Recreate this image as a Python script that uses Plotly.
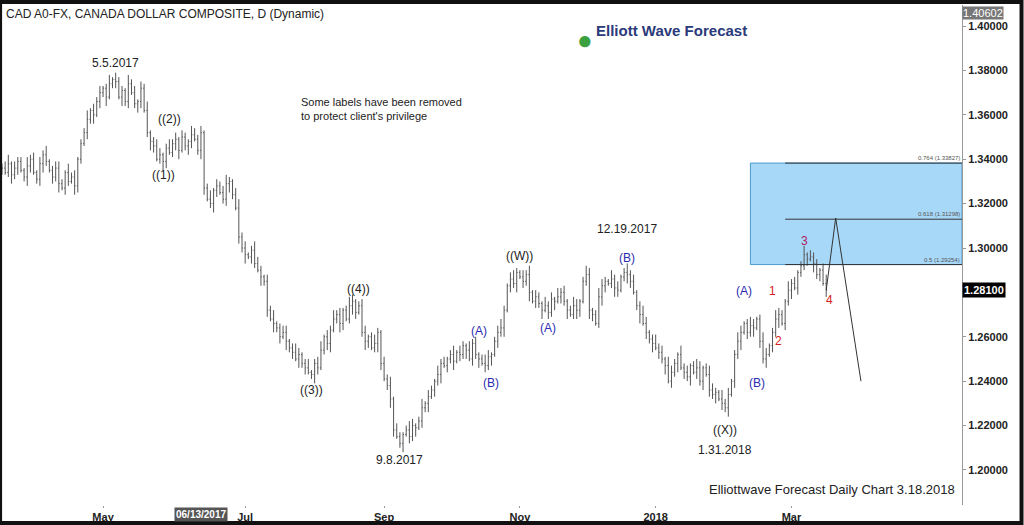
import pandas as pd
import plotly.graph_objects as go

close = [
1.336,1.334,1.338,1.333,1.336,1.339,1.335,1.332,1.337,1.340,1.334,1.331,
1.338,1.342,1.339,1.335,1.332,1.336,1.329,1.327,1.334,1.330,1.332,1.328,1.340,1.347,1.352,1.358,1.362,1.360,1.366,1.370,
1.372,1.368,1.374,1.376,1.375,1.368,1.371,1.366,1.374,1.370,1.365,1.366,1.372,1.362,1.352,1.348,1.346,1.340,1.342,1.339,1.345,1.343,1.347,
1.349,1.344,1.350,1.346,1.348,1.351,1.349,1.344,1.352,1.327,1.322,1.320,1.326,1.328,1.325,1.322,1.329,1.330,1.324,1.318,1.305,1.300,
1.297,1.296,1.299,1.293,1.290,1.287,1.285,1.272,1.268,1.266,1.264,1.260,1.262,1.258,1.255,1.253,1.250,1.252,1.248,1.246,1.244,
1.243,1.248,1.246,1.254,1.260,1.257,1.263,1.268,1.270,1.266,1.272,1.268,1.274,1.276,1.271,1.274,1.262,1.258,1.260,1.255,1.257,1.262,1.248,
1.241,1.238,1.232,1.218,1.215,1.212,1.216,1.218,1.215,1.220,1.219,1.222,1.228,1.230,1.233,1.236,1.240,1.243,1.248,1.247,1.250,
1.252,1.249,1.253,1.252,1.256,1.254,1.250,1.257,1.252,1.250,1.248,1.247,1.251,1.252,1.258,1.262,1.264,1.272,1.283,1.286,1.284,1.289,
1.287,1.285,1.288,1.280,1.276,1.278,1.275,1.272,1.274,1.271,1.277,1.276,1.278,1.280,1.276,1.272,1.270,1.274,1.272,1.276,1.285,1.288,
1.272,1.270,1.266,1.278,1.283,1.285,1.284,1.286,1.282,1.281,1.287,1.289,1.288,1.285,1.280,1.274,1.270,1.266,1.262,1.259,1.257,
1.255,1.253,1.250,1.247,1.240,1.244,1.248,1.252,1.246,1.244,1.242,1.247,1.244,1.246,1.240,1.246,1.243,1.236,1.234,1.235,1.232,1.230,1.228,
1.234,1.240,1.252,1.258,1.262,1.266,1.262,1.265,1.264,1.268,1.258,1.250,1.252,1.256,1.262,1.268,1.270,1.266,1.276,1.281,
1.284,1.282,1.289,1.292,1.297,1.295,1.296,1.293,1.288,1.290,1.284,1.281]

# upper / lower wick sizes (units of 0.001)
up_wick = ("23413221423132412332142312241323124132214231324123312423132143231241323421342312432132412331243124123413242312431233124213241321243124132142312413214231243123421342132413214231423124312431243214231242312431242314321423124312432142312431243124312432142312"
           "4132213423124132")
dn_wick = ("31242312431234213241321432132413241231423124312431243123412431243124312342132413214231423142314231243123412431243124312431243124132413241324132413241324132413241324132413241324132412431243124312431243124132413241324132413241324132413241324132413241324132"
           "2314231342132413")

dates = pd.bdate_range("2017-03-16", periods=len(close))
opens = [close[0]] + close[:-1]
highs = [max(o, c) + int(up_wick[i]) * 0.001 for i, (o, c) in enumerate(zip(opens, close))]
lows = [min(o, c) - int(dn_wick[i]) * 0.001 for i, (o, c) in enumerate(zip(opens, close))]

fib_levels = [1.33827, 1.31298, 1.29254]
fib_labels = ["0.764 (1.33827)", "0.618 (1.31298)", "0.5 (1.29254)"]
proj_dates = ["2018-03-16", "2018-03-21", "2018-04-02"]
proj_vals = [1.281, 1.3135, 1.240]
y_ticks = [1.20, 1.22, 1.24, 1.26, 1.30, 1.32, 1.34, 1.36, 1.38, 1.40]

wave_labels = [
    ("2017-05-05", 1.3835, "5.5.2017", "#222"),
    ("2017-05-30", 1.358, "((2))", "#222"),
    ("2017-05-26", 1.333, "((1))", "#222"),
    ("2017-08-01", 1.236, "((3))", "#222"),
    ("2017-08-22", 1.2815, "((4))", "#222"),
    ("2017-09-08", 1.2045, "9.8.2017", "#222"),
    ("2017-10-13", 1.2625, "(A)", "#2b2bb0"),
    ("2017-10-19", 1.239, "(B)", "#2b2bb0"),
    ("2017-11-01", 1.2965, "((W))", "#222"),
    ("2017-11-14", 1.264, "(A)", "#2b2bb0"),
    ("2017-12-19", 1.3085, "12.19.2017", "#222"),
    ("2017-12-19", 1.2955, "(B)", "#2b2bb0"),
    ("2018-01-31", 1.218, "((X))", "#222"),
    ("2018-01-31", 1.209, "1.31.2018", "#222"),
    ("2018-02-08", 1.2805, "(A)", "#2b2bb0"),
    ("2018-02-14", 1.239, "(B)", "#2b2bb0"),
    ("2018-02-21", 1.2805, "1", "#d42020"),
    ("2018-02-23", 1.258, "2", "#d42020"),
    ("2018-03-07", 1.303, "3", "#b02060"),
    ("2018-03-19", 1.2765, "4", "#d42020"),
]

fig = go.Figure()
fig.add_trace(go.Ohlc(x=dates, open=opens, high=highs, low=lows, close=close,
                      increasing=dict(line=dict(color="#555", width=1)),
                      decreasing=dict(line=dict(color="#555", width=1)),
                      tickwidth=0.3, showlegend=False, hoverinfo="skip"))

fig.add_shape(type="rect", x0="2018-02-12", x1="2018-05-16", y0=fib_levels[2], y1=fib_levels[0],
              fillcolor="#a8d8f8", line=dict(color="#4a9ad0", width=1), layer="below")
for lv, lb in zip(fib_levels, fib_labels):
    fig.add_shape(type="line", x0="2018-02-27", x1="2018-05-16", y0=lv, y1=lv,
                  line=dict(color="#333", width=1))
    fig.add_annotation(x="2018-05-16", y=lv, text=lb, showarrow=False, xanchor="right",
                       yanchor="bottom", font=dict(size=6, color="#555", family="Arial"))

fig.add_trace(go.Scatter(x=proj_dates, y=proj_vals, mode="lines", line=dict(color="#333", width=1),
                         showlegend=False, hoverinfo="skip"))

for d, y, t, c in wave_labels:
    fig.add_annotation(x=d, y=y, text=t, showarrow=False, font=dict(size=12, color=c, family="Arial"))

fig.add_annotation(xref="paper", yref="paper", x=0.002, y=1.0, text="CAD A0-FX, CANADA DOLLAR COMPOSITE, D (Dynamic)",
                   showarrow=False, xanchor="left", yanchor="top", font=dict(size=12, color="#222", family="Arial"))
fig.add_annotation(x="2017-07-26", y=1.3625, text="Some labels have been removed<br>to protect client's privilege",
                   showarrow=False, xanchor="left", align="left", font=dict(size=11, color="#222", family="Arial"))
fig.add_annotation(xref="paper", yref="paper", x=0.617, y=0.97, text="<b>Elliott Wave Forecast</b>",
                   showarrow=False, xanchor="left", font=dict(size=15, color="#2a3a7a", family="Arial"))
fig.add_annotation(xref="paper", yref="paper", x=0.607, y=0.972, text="●", showarrow=False,
                   font=dict(size=26, color="#3aa040"))
fig.add_annotation(xref="paper", yref="paper", x=0.995, y=0.012, text="Elliottwave Forecast Daily Chart 3.18.2018",
                   showarrow=False, xanchor="right", yanchor="bottom", font=dict(size=13, color="#222", family="Arial"))

fig.add_annotation(xref="paper", x=1.0, y=1.40602, text="1.40602", showarrow=False, xanchor="left", yanchor="middle",
                   bgcolor="#777", font=dict(size=11, color="white", family="Arial"), borderpad=0)
fig.add_annotation(xref="paper", x=1.0, y=1.281, text="<b>1.28100</b>", showarrow=False, xanchor="left",
                   bgcolor="black", font=dict(size=11, color="white", family="Arial"), borderpad=1)
fig.add_annotation(x="2017-06-13", yref="paper", y=-0.004, text="<b>06/13/2017</b>", showarrow=False, yanchor="top",
                   bgcolor="#555", font=dict(size=10, color="white", family="Arial"), borderpad=1)

fig.add_shape(type="rect", xref="paper", yref="paper", x0=-0.002, x1=1.062, y0=-0.036, y1=1.006,
              line=dict(color="#111", width=4), layer="above")

fig.update_layout(
    width=1024, height=525, margin=dict(l=2, r=62, t=5, b=20),
    paper_bgcolor="white", plot_bgcolor="white",
    xaxis=dict(type="date", rangebreaks=[dict(bounds=["sat", "mon"])], automargin=False,
               range=["2017-03-16", "2018-05-16"], rangeslider=dict(visible=False),
               tickvals=["2017-05-01", "2017-07-03", "2017-09-01", "2017-11-01", "2018-01-01", "2018-03-01"],
               ticktext=["<b>May</b>", "<b>Jul</b>", "<b>Sep</b>", "<b>Nov</b>", "<b>2018</b>", "<b>Mar</b>"],
               showgrid=False, ticks="outside", ticklen=2, tickcolor="#999",
               tickfont=dict(size=11, color="#222", family="Arial"), showline=False, zeroline=False),
    yaxis=dict(side="right", range=[1.1842, 1.4095], showgrid=False, automargin=False,
               tickvals=y_ticks, ticktext=["<b>%.5f</b>" % v for v in y_ticks],
               ticks="outside", ticklen=3, tickcolor="#999", showline=True, linecolor="#999", mirror=False,
               tickfont=dict(size=11, color="#222", family="Arial"), zeroline=False),
)
fig.write_html("out.html", config={"displayModeBar": False}, post_script="document.body.style.margin='0';")
